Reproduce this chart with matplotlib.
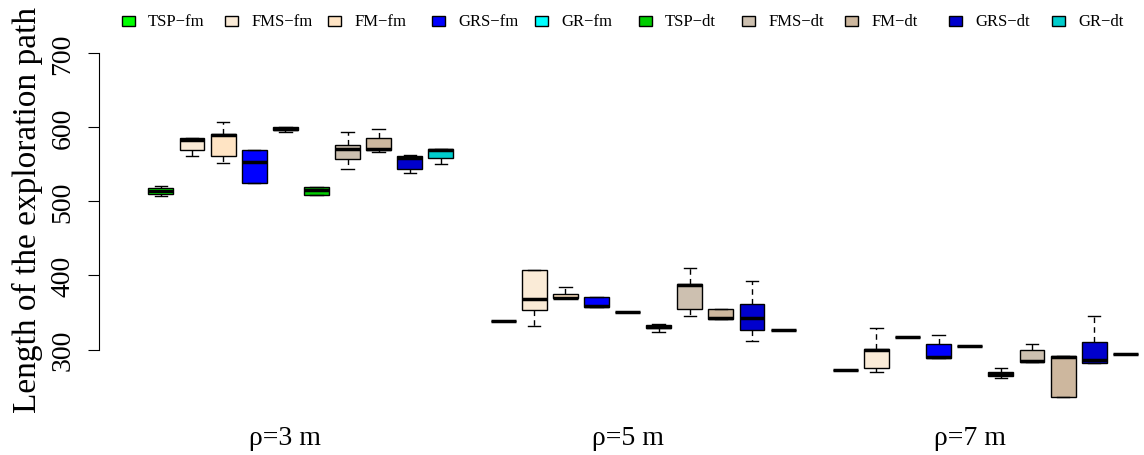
#
#       Boxplot of the exploration path length
#

import matplotlib.pyplot as plt
from matplotlib.patches import Rectangle

plt.rcParams['font.family'] = ['Liberation Serif', 'DejaVu Serif']

#   Methods, colours and groups
methods = ["TSP−fm", "FMS−fm", "FM−fm", "GRS−fm", "GR−fm",
           "TSP−dt", "FMS−dt", "FM−dt", "GRS−dt", "GR−dt"]
colors = ["#00FF00", "#FAEBD7", "#FFE4C4", "#0000FF", "#00FFFF",
          "#00CD00", "#CDC0B0", "#CDB79E", "#0000CD", "#00CDCD"]
groups = ["ρ=3 m", "ρ=5 m", "ρ=7 m"]

#   Box statistics (low whisker, Q1, median, Q3, high whisker), 10 per group
whis_lo = [507, 561, 552, 525, 593, 508, 543, 566, 538, 550,
           339, 332, 369, 358, 351, 324, 345, 342, 312, 326.5,
           272, 270, 317.5, 289, 305, 262, 284, 236, 282, 294.5]
q1 = [510, 569, 561, 525, 596, 508, 557, 569, 543, 559,
      339, 354, 369, 358, 351, 329, 355, 342, 326, 326.5,
      272, 276, 317.5, 289, 305, 265, 284, 236, 282, 294.5]
med = [514, 582, 589, 553, 598, 515, 571, 571, 559, 569,
       339, 368, 370, 359, 351, 331, 387, 343, 343, 326.5,
       272, 300, 317.5, 290, 305, 267, 285, 290, 286, 294.5]
q3 = [518, 585, 591, 569, 600, 519, 576, 585, 561, 570,
      339, 408, 375, 371, 351, 333, 388, 355, 361, 326.5,
      272, 301, 317.5, 308, 305, 269.5, 299, 291, 310, 294.5]
whis_hi = [520, 585, 607, 569, 600, 519, 594, 598, 563, 570,
           339, 408, 384, 371, 351, 334, 410, 355, 392, 326.5,
           272, 329, 317.5, 320, 305, 276, 307, 291, 346, 294.5]

stats = []
positions = []
for k in range(len(med)):
    stats.append({"whislo": whis_lo[k], "q1": q1[k], "med": med[k],
                  "q3": q3[k], "whishi": whis_hi[k], "fliers": []})
    positions.append((k // 10) * 11 + (k % 10) + 1)

fig = plt.figure(figsize=(11.44, 4.56), dpi=100)
ax = fig.add_axes([99 / 1144, 36 / 456, 1045 / 1144, 420 / 456])

bp = ax.bxp(stats, positions=positions, widths=0.8, patch_artist=True,
            showfliers=False, capwidths=0.4,
            boxprops=dict(edgecolor="black", linewidth=1),
            medianprops=dict(color="black", linewidth=2.5),
            whiskerprops=dict(color="black", linewidth=1, linestyle=(0, (4, 3))),
            capprops=dict(color="black", linewidth=1))
for k, box in enumerate(bp["boxes"]):
    box.set_facecolor(colors[k % 10])

#   Axes
ax.set_xlim(-0.99, 32.6)
ax.set_ylim(206.6, 772.6)
for s in ["top", "right", "bottom"]:
    ax.spines[s].set_visible(False)
ax.spines["left"].set_bounds(300, 700)
ax.set_yticks([300, 400, 500, 600, 700])
ax.set_yticklabels(["300", "400", "500", "600", "700"], rotation=90, va="center")
ax.tick_params(axis="y", length=8, labelsize=20, pad=9)
ax.set_xticks([5, 16, 27])
ax.set_xticklabels(groups)
ax.tick_params(axis="x", length=0, labelsize=20, pad=4)

fig.text(27 / 1144, 1 - 210 / 456, "Length of the exploration path",
         rotation=90, ha="center", va="center", fontsize=24)

#   Legend on top
for i, name in enumerate(methods):
    cx = 128 + i * 103.4
    fig.patches.append(Rectangle(((cx - 6.5) / 1144, 1 - 27 / 456), 13 / 1144, 10 / 456,
                                 transform=fig.transFigure, facecolor=colors[i],
                                 edgecolor="black", linewidth=1))
    fig.text((cx + 20) / 1144, 1 - 22 / 456, name, ha="left", va="center", fontsize=12)

plt.savefig("out.png", dpi=100)
